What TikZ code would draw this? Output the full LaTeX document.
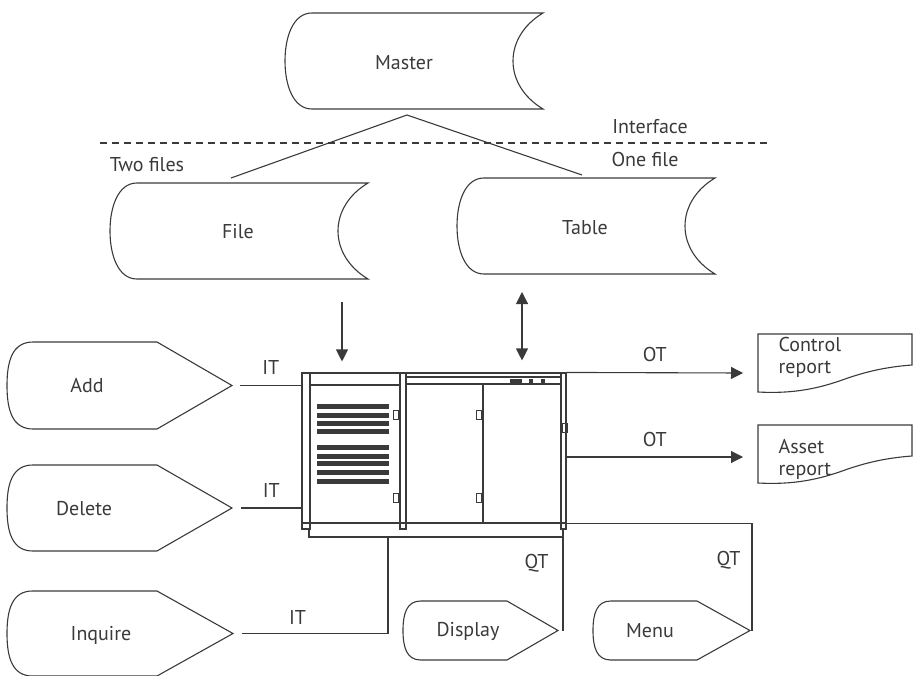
\documentclass[tikz,border=0pt]{standalone}
\usepackage{fontspec}
\setmainfont{PT Sans}
\usetikzlibrary{arrows.meta}

\definecolor{ink}{HTML}{3A3A3A}

\tikzset{
  lbl/.style={font=\fontsize{20}{22}\selectfont, inner sep=0pt},
  arr/.style={-{Triangle[length=12pt,width=12pt]}},
  dblarr/.style={{Triangle[length=12pt,width=12pt]}-{Triangle[length=12pt,width=12pt]}},
}

% stored data symbol, #1 = left x, #2 = top y
\newcommand{\storage}[2]{%
  \draw (#1+27,#2) -- (#1+258,#2)
    .. controls (#1+238,#2+12) and (#1+228,#2+30) .. (#1+228,#2+48)
    .. controls (#1+228,#2+66) and (#1+238,#2+84) .. (#1+258,#2+96)
    -- (#1+27,#2+96)
    .. controls (#1+8,#2+96) and (#1,#2+72) .. (#1,#2+48)
    .. controls (#1,#2+24) and (#1+8,#2) .. cycle;}

% display symbol, #1 = name of tip, #2 left, #3 shoulder, #4 tip x, #5 top, #6 bottom
\newcommand{\terminal}[6]{%
  \pgfmathsetmacro{\termm}{(#5+#6)/2}%
  \pgfmathsetmacro{\termr}{0.3*(#6-#5)}%
  \pgfmathsetmacro{\termh}{0.22*(#6-#5)}%
  \draw (#3,#5) -- (#4,\termm) coordinate (#1) -- (#3,#6) -- (#2+\termr,#6)
    .. controls (#2+0.2*\termr,#6) and (#2,#6-\termh) .. (#2,\termm)
    .. controls (#2,#5+\termh) and (#2+0.2*\termr,#5) .. (#2+\termr,#5) -- cycle;}

\begin{document}
\begin{tikzpicture}[x=1pt,y=-1pt,line width=1.1pt,color=ink]
  \useasboundingbox (0,0) rectangle (917,676);

  % files
  \storage{285}{13}
  \storage{110}{183}
  \storage{457}{178}
  \node[lbl] (master) at (404,63) {Master};
  \node[lbl] (file) at (238,232) {File};
  \node[lbl] (table) at (585,228) {Table};

  \coordinate (apex) at (407,115);
  \coordinate (filetop) at (231,178);
  \coordinate (tabletop) at (582,175);
  \draw (filetop) -- (apex) -- (tabletop);

  \coordinate (ifl) at (100,143);
  \coordinate (ifr) at (769,143);
  \draw[dash pattern=on 7pt off 5pt] (ifl) -- (ifr);
  \node[lbl] (iface) at (650,127) {Interface};
  \node[lbl] (onefile) at (645,160) {One file};
  \node[lbl] (twofiles) at (147,165) {Two files};

  % the computer cabinet
  \node[draw,minimum width=264pt,minimum height=150pt,inner sep=0pt] (cpu) at (434,448) {};
  \draw (302,373) rectangle (310,529);
  \draw (400,373) rectangle (406,529);
  \draw[line width=1.6pt] (561,373) rectangle (566,529);
  \draw (310,385) -- (400,385);
  \draw (406,377) -- (561,377);
  \draw (406,384) -- (561,384);
  \draw (483,384) -- (483,523);
  \draw (309,529) |- (563,537) -- (563,529);
  \foreach \y in {406,415,423,431,447,456,463,472,481}
    \fill (317,\y-2.5) rectangle (389,\y+2.5);
  \foreach \x/\y in {396/415,396/498,479/415,479/498,565/428}
    \draw[line width=0.9pt] (\x-2.5,\y-4.5) rectangle (\x+2.5,\y+4.5);
  \fill (510,379) rectangle (522,384);
  \fill (529,379) rectangle (533,384);
  \fill (541,379) rectangle (545,384);

  \coordinate (filein) at (342,302);
  \coordinate (tablein) at (522,292);
  \draw[arr,shorten >=11pt] (filein) -- (filein |- cpu.north);
  \draw[dblarr,shorten >=12pt] (tablein) -- (tablein |- cpu.north);

  % inputs
  \terminal{addtip}{7}{157}{232}{342}{429}
  \terminal{deltip}{7}{157}{232}{465}{551}
  \terminal{inqtip}{7}{157}{233}{591}{676}
  \node[lbl] (add) at (87,386) {Add};
  \node[lbl] (delete) at (84,509) {Delete};
  \node[lbl] (inquire) at (101,635) {Inquire};

  \coordinate (inqport) at (388,537);
  \draw ([xshift=8pt]addtip) -- (addtip -| cpu.west) node[lbl,midway,above=10pt] {IT};
  \draw ([xshift=9pt]deltip) -- (deltip -| cpu.west) node[lbl,midway,above=10pt] {IT};
  \draw ([xshift=9pt]inqtip) -| (inqport) node[lbl,pos=0.19,above=8pt] {IT};

  % query outputs
  \terminal{disptip}{403}{507}{558}{601}{660}
  \terminal{menutip}{593}{697}{750}{601}{660}
  \node[lbl] (display) at (468,631) {Display};
  \node[lbl] (menu) at (650,631) {Menu};

  \coordinate (dispport) at (563,537);
  \draw (dispport) -- (dispport |- disptip) node[lbl,pos=0.28,left=14pt] {QT};
  \draw (cpu.south east) -| ([xshift=2pt]menutip) node[lbl,pos=0.67,left=11pt] {QT};

  % reports
  \draw (758,334) -- (912,334) -- (912,365)
    .. controls (885,367) and (865,372) .. (845,379)
    .. controls (820,388) and (795,394) .. (758,392) -- cycle;
  \draw (758,425) -- (912,425) -- (912,456)
    .. controls (885,458) and (865,463) .. (845,470)
    .. controls (820,479) and (795,485) .. (758,483) -- cycle;
  \node[lbl,anchor=west,align=left] (ctrlrep) at (778,357) {Control\\report};
  \node[lbl,anchor=west,align=left] (assetrep) at (778,459) {Asset\\report};

  \coordinate (ctrl) at (758,373);
  \coordinate (asset) at (758,457);
  \draw[arr] (cpu.north east) -- ([xshift=-15pt]ctrl) node[lbl,midway,above=10pt] {OT};
  \draw[arr] (cpu.north east |- asset) -- ([xshift=-15pt]asset) node[lbl,midway,above=10pt] {OT};
\end{tikzpicture}
\end{document}
